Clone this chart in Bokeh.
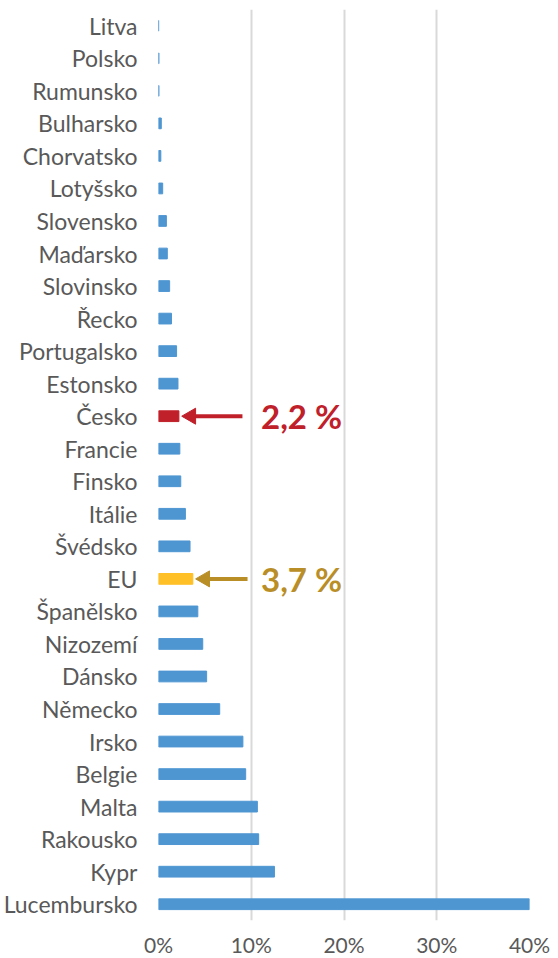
import math
from bokeh.plotting import figure
from bokeh.models import FactorRange, Range1d, NumeralTickFormatter, FixedTicker, ColumnDataSource
from bokeh.core.properties import value
from bokeh.embed import file_html
from bokeh.resources import INLINE

countries = ["Litva", "Polsko", "Rumunsko", "Bulharsko", "Chorvatsko", "Lotyšsko",
             "Slovensko", "Maďarsko", "Slovinsko", "Řecko", "Portugalsko", "Estonsko",
             "Česko", "Francie", "Finsko", "Itálie", "Švédsko", "EU", "Španělsko",
             "Nizozemí", "Dánsko", "Německo", "Irsko", "Belgie", "Malta", "Rakousko",
             "Kypr", "Lucembursko"]
values = [0.02, 0.05, 0.05, 0.3, 0.25, 0.45, 0.85, 0.95, 1.2, 1.4, 1.95, 2.1,
          2.2, 2.3, 2.4, 2.9, 3.4, 3.7, 4.24, 4.77, 5.19, 6.6, 9.1, 9.4, 10.66, 10.8,
          12.5, 40.0]
x_ticks = [0, 10, 20, 30, 40]
highlights = {"Česko": ("#C0202A", "#C0202A"), "EU": ("#FFBF27", "#B98E27")}
arrow_start = {"Česko": 9.05, "EU": 9.6}

FONT = "Lato"
GREY = "#595959"
BLUE = "#4E96D2"

colors = [highlights[c][0] if c in highlights else BLUE for c in countries]
src = ColumnDataSource(dict(y=countries, right=[v / 100 for v in values], color=colors))

p = figure(width=550, height=959, output_backend="svg", toolbar_location=None,
           y_range=FactorRange(*reversed(countries), range_padding=0),
           x_range=Range1d(0, 0.40))
p.min_border_left = 0
p.min_border_right = 21
p.min_border_top = 9
p.min_border_bottom = 0
p.outline_line_color = None
p.background_fill_color = "white"

p.hbar(y="y", left=0, right="right", height=0.33, color="color", source=src)

# annotations
for c, (bar_col, txt_col) in highlights.items():
    v = values[countries.index(c)]
    head_x = v / 100 + 0.013
    x_start = arrow_start[c] / 100
    p.segment(x0=[x_start], y0=[c], x1=[head_x], y1=[c], line_color=txt_col, line_width=4)
    p.scatter(x=[head_x], y=[c], marker="triangle", angle=math.pi / 2, size=16,
              fill_color=txt_col, line_color=txt_col)
    label = f"{v:.1f} %".replace(".", ",")
    p.text(x=[0.1105], y=[c], text=[label], text_baseline="middle", text_align="left",
           text_font=value(FONT), text_font_style="bold", text_font_size="33px",
           text_color=txt_col)

p.xaxis.ticker = FixedTicker(ticks=[t / 100 for t in x_ticks])
p.xaxis.formatter = NumeralTickFormatter(format="0%")
p.xaxis.axis_line_color = None
p.xaxis.major_tick_line_color = None
p.xaxis.major_tick_out = 0
p.xaxis.major_tick_in = 0
p.xaxis.minor_tick_line_color = None
p.xaxis.major_label_text_font = FONT
p.xaxis.major_label_text_font_size = "21px"
p.xaxis.major_label_text_color = GREY
p.xaxis.major_label_standoff = 11

p.yaxis.axis_line_color = None
p.yaxis.major_tick_line_color = None
p.yaxis.major_tick_out = 0
p.yaxis.major_tick_in = 0
p.yaxis.minor_tick_line_color = None
p.yaxis.major_label_text_font = FONT
p.yaxis.major_label_text_font_size = "23px"
p.yaxis.major_label_text_color = GREY
p.yaxis.major_label_standoff = 21

p.ygrid.grid_line_color = None
p.xgrid.grid_line_color = "#D9D9D9"
p.xgrid.grid_line_width = 2

open("out.html", "w").write(file_html(p, INLINE))
